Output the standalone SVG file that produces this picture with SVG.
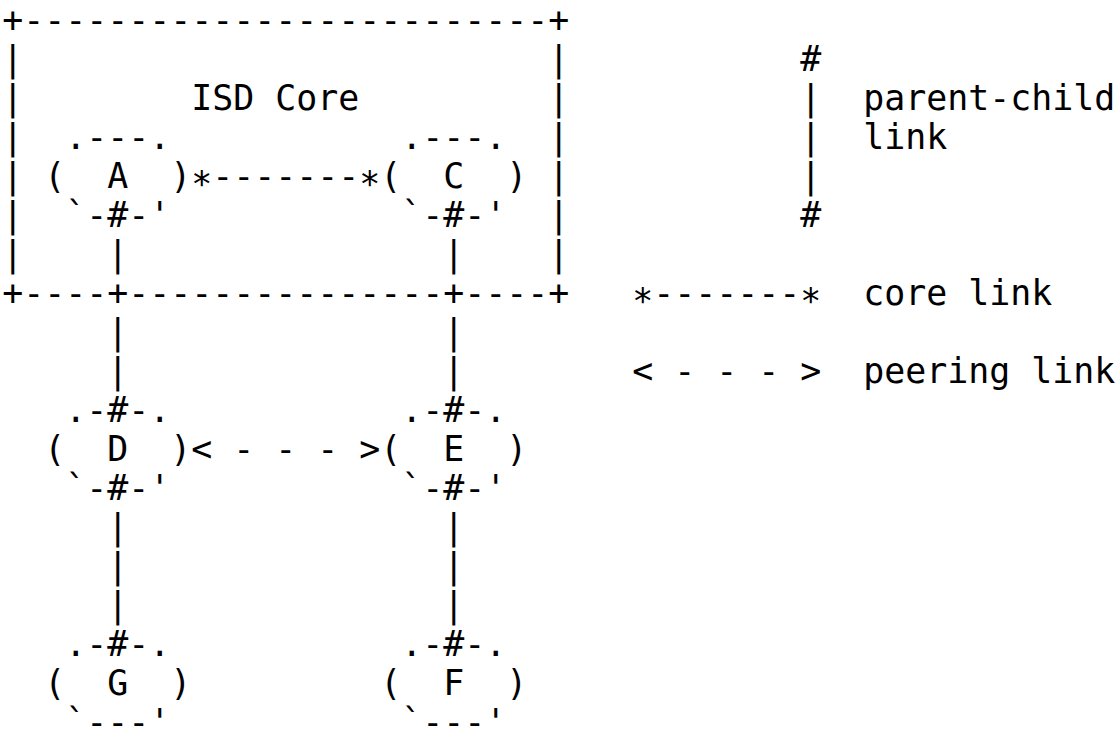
<svg xmlns="http://www.w3.org/2000/svg" width="1116" height="744" viewBox="0 0 1116 744" xml:space="preserve">
<style>
text { font-family: "DejaVu Sans Mono", "Liberation Mono", monospace; font-size: 34.9px; fill: #000; white-space: pre; }
.ast { transform: translateY(8px); }
</style>
<rect width="1116" height="744" fill="#fff"/>
<g id="isd-core-box">
<text x="2.2" y="32">+-------------------------+</text>
<text x="2.2" y="71">|</text><text x="548.2" y="71">|</text>
<text x="2.2" y="110">|</text><text x="548.2" y="110">|</text>
<text x="2.2" y="149">|</text><text x="548.2" y="149">|</text>
<text x="2.2" y="188">|</text><text x="548.2" y="188">|</text>
<text x="2.2" y="227">|</text><text x="548.2" y="227">|</text>
<text x="2.2" y="266">|</text><text x="548.2" y="266">|</text>
<text x="2.2" y="305">+----+---------------+----+</text>
<text x="191.2" y="110">ISD Core</text>
</g>
<g id="node-A">
<text x="65.2" y="149">.---.</text>
<text x="44.2" y="188">(  A  )</text>
<text x="65.2" y="227">`-#-'</text>
</g>
<g id="node-C">
<text x="401.2" y="149">.---.</text>
<text x="380.2" y="188">(  C  )</text>
<text x="401.2" y="227">`-#-'</text>
</g>
<g id="node-D">
<text x="65.2" y="422">.-#-.</text>
<text x="44.2" y="461">(  D  )</text>
<text x="65.2" y="500">`-#-'</text>
</g>
<g id="node-E">
<text x="401.2" y="422">.-#-.</text>
<text x="380.2" y="461">(  E  )</text>
<text x="401.2" y="500">`-#-'</text>
</g>
<g id="node-G">
<text x="65.2" y="656">.-#-.</text>
<text x="44.2" y="695">(  G  )</text>
<text x="65.2" y="734">`---'</text>
</g>
<g id="node-F">
<text x="401.2" y="656">.-#-.</text>
<text x="380.2" y="695">(  F  )</text>
<text x="401.2" y="734">`---'</text>
</g>
<g id="connectors">
<text class="ast" x="191.2" y="188">*</text>
<text x="212.2" y="188">-------</text>
<text class="ast" x="359.2" y="188">*</text>
<text x="191.2" y="461">&lt; - - - &gt;</text>
<text x="107.2" y="266">|</text>
<text x="443.2" y="266">|</text>
<text x="107.2" y="344">|</text>
<text x="443.2" y="344">|</text>
<text x="107.2" y="383">|</text>
<text x="443.2" y="383">|</text>
<text x="107.2" y="539">|</text>
<text x="443.2" y="539">|</text>
<text x="107.2" y="578">|</text>
<text x="443.2" y="578">|</text>
<text x="107.2" y="617">|</text>
<text x="443.2" y="617">|</text>
</g>
<g id="legend">
<text x="800.2" y="71">#</text>
<text x="800.2" y="110">|  parent-child</text>
<text x="800.2" y="149">|  link</text>
<text x="800.2" y="188">|</text>
<text x="800.2" y="227">#</text>
<text class="ast" x="632.2" y="305">*</text>
<text x="653.2" y="305">-------</text>
<text class="ast" x="800.2" y="305">*</text>
<text x="863.2" y="305">core link</text>
<text x="632.2" y="383">&lt; - - - &gt;  peering link</text>
</g>
</svg>
